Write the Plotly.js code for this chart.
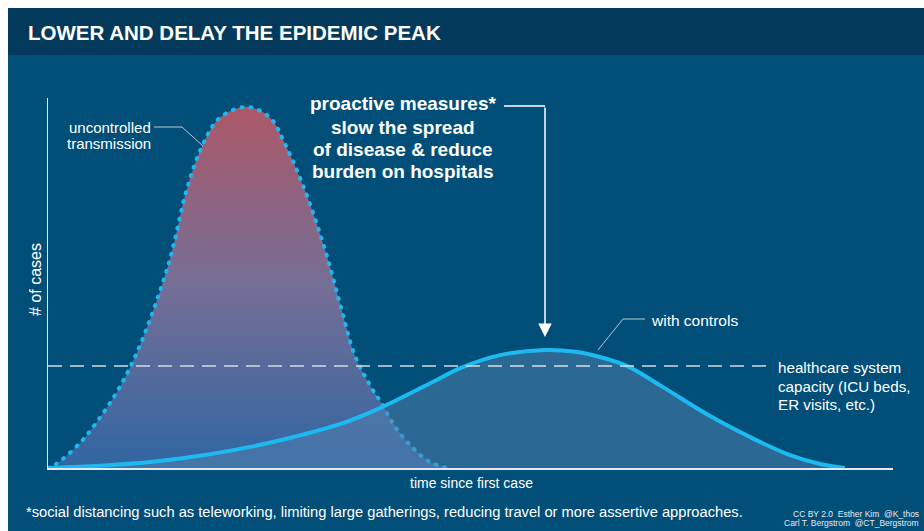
<!DOCTYPE html>
<html>
<head>
<meta charset="utf-8">
<script src="https://cdn.plot.ly/plotly-3.0.1.min.js"></script>
<style>
html,body{margin:0;padding:0;background:#fff;}
#chart{width:924px;height:531px;}
.scatterlayer .trace:first-child .js-line{stroke-linecap:round !important;}
</style>
</head>
<body>
<div id="chart"></div>
<script>
// ---- data (time since first case vs # of cases, arbitrary units) ----
const uncontrolledDays  = [0, 0.8, 3.8, 6.2, 8.5, 10.9, 13.8, 14.8, 16.4, 18.3, 20.3, 23.6, 26.3, 28.0, 30.4, 32.8, 34.6, 36.3, 38.1, 39.6, 41.1, 43.2, 45.2, 47.2];
const uncontrolledCases = [0, 0.8, 6.8, 13.8, 21.9, 33.2, 51.6, 59.7, 75.1, 87.3, 94.6, 97.6, 94.6, 87.8, 75.1, 58.9, 44.1, 30.5, 22.4, 17.0, 11.1, 5.4, 1.6, 0];

const controlledDays  = [0, 6.2, 12.1, 18.0, 23.9, 28.6, 34.6, 39.3, 46.0, 48.8, 53.5, 58.8, 62.4, 65.3, 68.5, 72.4, 78.3, 84.3, 87.8, 91.4, 94.3];
const controlledCases = [0, 0.6, 1.6, 3.3, 5.7, 8.1, 11.9, 16.2, 23.8, 27.0, 30.5, 31.9, 31.4, 30.0, 27.6, 22.4, 14.1, 7.0, 3.5, 1.1, 0];

const capacityLevel = 27.6;
const capacityEndDay = 85.2;

const labels = {
  title: "LOWER AND DELAY THE EPIDEMIC PEAK",
  yTitle: "# of cases",
  xTitle: "time since first case",
  uncontrolled: ["uncontrolled", "transmission"],
  controlled: "with controls",
  capacity: ["healthcare system", "capacity (ICU beds,", "ER visits, etc.)"],
  measures: ["proactive measures*", "slow the spread", "of disease &amp; reduce", "burden on hospitals"],
  footnote: "*social distancing such as teleworking, limiting large gatherings, reducing travel or more assertive approaches.",
  credit1: "CC BY 2.0  Esther Kim  @K_thos",
  credit2: "Carl T. Bergstrom  @CT_Bergstrom"
};

// ---- helpers: pixel position -> paper coordinates ----
const L = 48, R = 893, T = 98, B = 468;
const px = x => (x - L) / (R - L);
const py = y => (B - y) / (B - T);

const FONT = "Liberation Sans, Arial, Helvetica, sans-serif";
const white = "#ffffff";
const leader = "#b9c6d2";

const traces = [
  {
    x: uncontrolledDays, y: uncontrolledCases,
    type: "scatter", mode: "lines",
    line: {shape: "spline", smoothing: 1, color: "#22b6ee", width: 4, dash: "1px,8px"},
    fill: "tozeroy",
    fillcolor: "rgba(120,100,140,0.9)",
    fillgradient: {type: "vertical", colorscale: [[0, "rgb(48,102,162)"], [0.5, "rgb(116,110,150)"], [1, "rgb(172,88,104)"]]},
    hoverinfo: "skip"
  },
  {
    x: controlledDays, y: controlledCases,
    type: "scatter", mode: "lines",
    line: {shape: "spline", smoothing: 1, color: "#1cbaf0", width: 4},
    fill: "tozeroy",
    fillcolor: "rgba(86,130,176,0.5)",
    hoverinfo: "skip"
  }
];

const shapes = [
  // white outer margins
  {type: "rect", xref: "paper", yref: "paper", x0: -0.2, x1: 1.2, y0: py(8), y1: 1.5, fillcolor: white, line: {width: 0}, layer: "below"},
  {type: "rect", xref: "paper", yref: "paper", x0: -0.2, x1: px(8), y0: -0.5, y1: 1.5, fillcolor: white, line: {width: 0}, layer: "below"},
  // title bar
  {type: "rect", xref: "paper", yref: "paper", x0: px(8), x1: 1.2, y0: py(55), y1: py(8), fillcolor: "#033a5c", line: {width: 0}, layer: "below"},
  // healthcare capacity dashed line
  {type: "line", xref: "x", yref: "y", x0: 0, x1: capacityEndDay, y0: capacityLevel, y1: capacityLevel, line: {color: "#d5dbe2", width: 1.5, dash: "14px,8px"}, layer: "above"},
  // leader: uncontrolled transmission
  {type: "path", xref: "paper", yref: "paper", path: `M ${px(154)} ${py(127)} L ${px(182)} ${py(127)} L ${px(203)} ${py(146)}`, line: {color: leader, width: 1}},
  // leader: with controls
  {type: "path", xref: "paper", yref: "paper", path: `M ${px(645)} ${py(319)} L ${px(623)} ${py(319)} L ${px(598)} ${py(350)}`, line: {color: leader, width: 1}},
  // arrow horizontal segment
  {type: "line", xref: "paper", yref: "paper", x0: px(504), x1: px(545), y0: py(106), y1: py(106), line: {color: white, width: 1.5}}
];

const ann = (o) => Object.assign({xref: "paper", yref: "paper", showarrow: false, font: {family: FONT, color: white, size: 13}}, o);

const annotations = [
  ann({text: labels.title, x: px(26), y: py(32), xanchor: "left", yanchor: "middle", font: {family: FONT, color: white, size: 20.5, weight: 700}}),
  ann({text: labels.yTitle, x: px(35), y: py(280), xanchor: "center", yanchor: "middle", textangle: -90, font: {family: FONT, color: white, size: 16}}),
  ann({text: labels.xTitle, x: px(471), y: py(483), xanchor: "center", yanchor: "middle", font: {family: FONT, color: white, size: 14}}),
  ann({text: labels.controlled, x: px(649), y: py(320), xanchor: "left", yanchor: "middle", font: {family: FONT, color: white, size: 15.5}}),
  ann({text: labels.footnote, x: px(24), y: py(512), xanchor: "left", yanchor: "middle", font: {family: FONT, color: white, size: 14.7}}),
  ann({text: labels.credit1, x: px(921), y: py(514), xanchor: "right", yanchor: "middle", font: {family: FONT, color: "#e6ecf2", size: 8.5}}),
  ann({text: labels.credit2, x: px(921), y: py(523), xanchor: "right", yanchor: "middle", font: {family: FONT, color: "#e6ecf2", size: 8.5}}),
  // arrow pointing down to the flattened peak
  {xref: "paper", yref: "paper", x: px(545), y: py(337), ax: 0, ay: -231, text: "", showarrow: true,
   arrowhead: 2, arrowsize: 1.8, arrowwidth: 1.5, arrowcolor: white, standoff: 0}
];

const uncY = [127, 144];
labels.uncontrolled.forEach((t, i) => annotations.push(ann({text: t, x: px(153), y: py(uncY[i]), xanchor: "right", yanchor: "middle", font: {family: FONT, color: white, size: 15}})));
const capY = [367, 386, 404];
labels.capacity.forEach((t, i) => annotations.push(ann({text: t, x: px(776), y: py(capY[i]), xanchor: "left", yanchor: "middle", font: {family: FONT, color: white, size: 15.2}})));
const meaY = [104, 127, 149, 171];
labels.measures.forEach((t, i) => annotations.push(ann({text: t, x: px(403), y: py(meaY[i]), xanchor: "center", yanchor: "middle", font: {family: FONT, color: white, size: 19, weight: 700}})));

const layout = {
  width: 924, height: 531,
  margin: {l: L, r: 924 - R, t: T, b: 531 - B, pad: 0},
  paper_bgcolor: "#014e78",
  plot_bgcolor: "rgba(0,0,0,0)",
  showlegend: false,
  xaxis: {range: [0, 100], showline: true, linecolor: "#e4e9ee", linewidth: 1.5, showgrid: false, zeroline: false, showticklabels: false, ticks: "", fixedrange: true},
  yaxis: {range: [0, 100], showline: true, linecolor: "#e4e9ee", linewidth: 1.5, showgrid: false, zeroline: false, showticklabels: false, ticks: "", fixedrange: true},
  shapes: shapes,
  annotations: annotations
};

Plotly.newPlot("chart", traces, layout, {displayModeBar: false, staticPlot: true});
</script>
</body>
</html>
